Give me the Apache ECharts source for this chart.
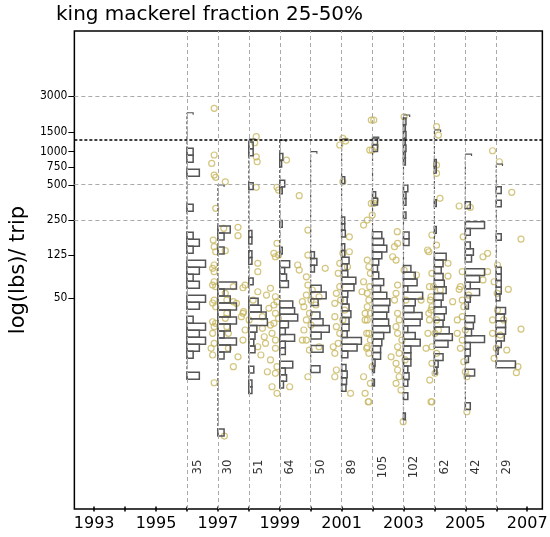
<!DOCTYPE html>
<html><head><meta charset="utf-8">
<script src="https://cdn.jsdelivr.net/npm/echarts@6/dist/echarts.min.js"></script>
<style>html,body{margin:0;padding:0;background:#fff}#c{width:550px;height:537px}</style>
</head><body><div id="c"></div>
<script>
// ---------- data ----------
const years = [1996,1997,1998,1999,2000,2001,2002,2003,2004,2005,2006];
const tripCounts = [35,30,51,64,50,89,105,102,62,42,29];
// histogram (per year): log value at top of first bin, bin width, relative bar lengths (top -> bottom)
const histTop  = [3.036,2.377,3.089,2.992,2.159,2.795,3.123,3.292,2.941,2.583,2.710];
const histStep = [0.0593,0.0593,0.0576,0.0568,0.0568,0.0568,0.0568,0.0568,0.0568,0.0568,0.0568];
const histMax  = [3.337,2.725,3.114,3.106,3.007,3.114,3.131,3.318,3.191,2.987,2.903];
const histBars = [
 [1,1,0,2,0,0,0,0,1,0,0,0,1,2,1,0,3,2,1,2,0,3,2,0,1,3,2,3,2,1,0,0,2],
 [2,1,0,1,0,0,0,0,3,1,2,3,2,3,2,1,3,2,1,0,0,0,0,0,0,0,0,0,0,1],
 [0.7,0.7,0,0,0,0,0.7,0,0,0,0,0,0,0.5,0.5,0,0.5,0.5,0,0,0.7,0,0,1.5,2,2.8,3,1.3,1,0.8,1,0,0,0.8,0,0.5,0.5],
 [0.5,0.3,0,0,0.8,0.4,0,0,0,0,0.4,0,0,0,0.4,0,1.6,0.8,1.1,1.4,0,0,2.1,2.4,2.9,1.4,0.9,2.4,0.9,0.9,0,2.1,0.9,1.1,0.6],
 [0.6,1,0.6,0,0,1.7,2.5,1.2,0,1.5,2,3,1.7,0,2,0,0,1.5],
 [0.5,0,0,0,0,0,0.5,0.5,0.6,0,0.5,0.5,1.2,0.9,1,2.3,2,1,0.9,1.2,1.5,1.2,1.2,0.9,3.2,2.5,1,0,0.7,0.9,0.8,0.7],
 [0.8,0.8,0,0,0,0,0,0,0.5,0.8,0,0,0,0,1.5,1.8,2.3,1.5,1,0.8,1,1.8,1.3,2.3,2.8,2.6,2.3,2.6,2.8,1.8,1.5,1.3,1.3,0.4,0.3,0,0.3],
 [0.4,0.3,0.4,0.3,0.4,0.3,0.3,0,0,0,0.7,0.4,0.4,0,0.4,0,0,0.9,0.9,0,0,0,1.2,1.9,2.2,0.7,3.1,1.9,1.7,3,2.7,0.7,1.9,2.7,1.2,1.2,1.2,0.7,0.9,0.7,0,0.7,0,0,0.3],
 [0.3,0.3,0,0,0,0,0.3,0,0,0,0.3,0,0,0,1.9,1.4,1.1,1.4,1.6,1.9,1.4,1.1,1.9,1.6,1.4,2.4,2.9,2.2,0,1.4,0.6,0.4],
 [0.8,0,0,3.1,0.8,0,0.8,1.3,1,0,3.1,2.3,0.8,2.3,0.8,0.5,0,1.5,1.3,1,3.1,0.8,0.8,0.5,0,1.5,0,0,0,0,0.8],
 [0.8,0,0.8,0,0,0,0,0.8,0,0,0,0,0.8,0.8,0.8,0.8,0.6,0,1.5,1.3,1.5,1.5,1.3,0.8,0.3,0,3.1]
];
// trips: [year position (jittered), log(lbs)]
const pts9697 = [[1996.88,3.375],[1996.88,2.979],[1996.80,2.908],[1996.88,2.809],[1996.93,2.790],[1997.24,2.752],[1996.93,2.527],[1997.19,2.358],[1997.65,2.366],[1997.65,2.295],[1996.85,2.258],[1996.88,2.202],[1996.93,2.159],[1997.24,2.168],[1996.88,2.047],[1996.83,2.019],[1996.88,1.990],[1996.88,1.905],[1996.83,1.877],[1996.93,1.863],[1997.50,1.863],[1997.81,1.854],[1997.24,1.807],[1996.88,1.750],[1996.83,1.725],[1996.93,1.693],[1997.29,1.750],[1997.50,1.736],[1997.60,1.722],[1997.81,1.637],[1997.76,1.609],[1997.29,1.637],[1996.83,1.566],[1996.93,1.553],[1996.88,1.524],[1997.24,1.595],[1997.29,1.524],[1997.34,1.468],[1996.83,1.468],[1996.88,1.383],[1997.81,1.411],[1996.78,1.341],[1996.83,1.284],[1997.34,1.341],[1997.65,1.269],[1997.50,1.185],[1996.88,1.049],[1997.21,0.597]];
const pts9899 = [[1998.24,3.134],[1998.19,3.083],[1998.24,2.964],[1998.27,2.922],[1998.24,2.705],[1998.91,2.705],[1998.96,2.682],[1999.63,2.634],[1999.22,2.936],[1998.91,2.230],[1998.81,2.146],[1998.86,2.117],[1998.96,2.131],[1998.29,2.061],[1998.29,1.990],[1999.58,2.047],[1999.63,2.004],[1997.88,1.877],[1998.29,1.820],[1998.70,1.849],[1998.86,1.778],[1998.91,1.736],[1998.81,1.708],[1998.65,1.680],[1999.73,1.736],[1999.78,1.693],[1997.83,1.651],[1998.44,1.609],[1998.86,1.637],[1998.96,1.595],[1998.81,1.553],[1997.88,1.496],[1998.44,1.510],[1998.50,1.439],[1998.75,1.468],[1998.86,1.411],[1999.78,1.496],[1999.73,1.411],[1998.29,1.354],[1998.86,1.341],[1998.39,1.284],[1998.70,1.242],[1998.60,1.142],[1998.86,1.129],[1998.91,1.185],[1998.75,1.015],[1998.91,0.959],[1999.32,1.015],[1998.57,1.792],[1998.70,1.538],[1998.54,1.383],[1998.14,1.750],[1998.01,1.581]];
const pts0001 = [[2001.04,3.120],[2000.94,3.064],[2001.13,3.097],[2001.96,3.275],[2001.91,3.021],[2001.04,2.752],[2001.96,2.569],[1999.91,2.343],[2001.71,2.385],[2001.25,2.286],[1999.91,2.131],[2000.47,2.019],[2001.04,2.146],[2001.25,2.159],[1999.86,1.947],[1999.91,1.877],[2000.94,2.061],[2000.89,1.976],[2001.19,2.032],[1999.86,1.792],[2000.01,1.750],[2000.27,1.778],[2000.94,1.863],[2000.83,1.807],[2000.78,1.722],[2001.71,1.905],[2001.66,1.820],[2001.91,1.863],[1999.96,1.637],[1999.86,1.581],[2000.01,1.538],[2000.78,1.609],[2000.83,1.524],[2000.94,1.468],[2001.76,1.637],[2001.76,1.581],[2000.27,1.354],[1999.86,1.411],[1999.96,1.326],[2000.73,1.354],[2000.89,1.383],[2000.78,1.298],[2001.81,1.468],[2001.81,1.341],[1999.91,1.100],[2000.83,1.157],[2000.78,1.100],[2001.29,0.959],[2001.71,1.100],[2001.76,0.959],[2001.86,0.888],[2000.05,1.835],[2000.17,1.708],[2000.97,1.750],[2001.04,1.581],[2001.10,1.665]];
const pts0203 = [[2002.04,3.275],[2001.99,3.021],[2002.09,3.049],[2003.02,3.303],[2002.09,2.597],[2002.04,2.569],[2001.83,2.428],[2001.99,2.470],[2002.81,2.230],[2002.71,2.202],[2002.65,2.117],[2002.76,2.089],[2001.83,2.089],[2001.88,2.032],[2001.93,1.976],[2002.81,1.877],[2002.76,1.807],[2002.71,1.750],[2003.84,1.863],[2003.89,1.778],[2001.83,1.807],[2001.88,1.750],[2001.83,1.693],[2001.93,1.637],[2002.81,1.637],[2002.86,1.581],[2002.76,1.524],[2002.81,1.468],[2003.89,1.665],[2003.84,1.581],[2003.79,1.468],[2001.83,1.581],[2001.88,1.468],[2001.93,1.411],[2001.83,1.354],[2002.60,1.269],[2002.81,1.354],[2002.86,1.298],[2002.76,1.214],[2001.88,1.298],[2001.99,1.185],[2001.93,1.044],[2001.88,0.888],[2002.81,1.157],[2002.86,1.100],[2002.76,1.044],[2002.99,0.719],[2003.89,0.888],[2002.80,2.329],[2003.02,2.004],[2003.08,1.750],[2002.95,1.411],[2003.05,1.242],[2002.92,0.987]];
const pts0406 = [[2004.07,3.219],[2004.13,3.148],[2004.07,2.894],[2004.07,2.824],[2004.18,2.612],[2004.80,2.547],[2005.16,2.535],[2005.88,3.015],[2006.10,2.922],[2006.50,2.663],[2003.92,2.301],[2004.93,2.286],[2006.80,2.267],[2004.07,2.216],[2003.82,2.159],[2004.44,2.061],[2004.44,1.953],[2005.57,2.117],[2005.72,2.146],[2004.90,1.990],[2005.72,1.990],[2005.57,1.920],[2004.84,1.863],[2004.80,1.841],[2005.93,1.905],[2006.39,1.841],[2006.03,1.807],[2003.92,1.976],[2003.97,1.863],[2003.87,1.750],[2003.92,1.693],[2003.82,1.637],[2004.07,1.581],[2004.59,1.736],[2004.90,1.750],[2004.95,1.693],[2004.90,1.609],[2004.74,1.581],[2005.88,1.581],[2006.24,1.581],[2006.80,1.504],[2004.74,1.468],[2004.90,1.411],[2004.84,1.341],[2005.88,1.468],[2006.34,1.326],[2006.00,1.341],[2005.93,1.256],[2004.02,1.468],[2003.92,1.354],[2004.07,1.298],[2003.92,1.214],[2004.02,1.129],[2004.95,1.227],[2005.00,1.142],[2005.05,1.100],[2006.70,1.185],[2006.65,1.134],[2003.92,0.888],[2005.05,0.803],[2003.42,1.962],[2003.78,2.174],[2003.73,1.341],[2003.57,1.750],[2004.19,1.835],[2004.13,1.496],[2003.85,1.072],[2005.11,1.792],[2005.00,1.496],[2006.04,2.047],[2006.04,1.665],[2006.13,1.453]];
// axes
const yTickLabels = ['50','125','250','500','750','1000','1500','3000'];
const yTickPos    = [1.767,2.131,2.428,2.725,2.877,3.007,3.176,3.479];
const gridLineLabels = ['3000','500','250'];
const thresholdPos = 3.106;
const xTickYears  = [1993,1994,1995,1996,1997,1998,1999,2000,2001,2002,2003,2004,2005,2006,2007];
const xLabelYears = [1993,1995,1997,1999,2001,2003,2005,2007];

// ---------- build ----------
const barUnit = 0.2, tickLen = 0.2, labelDx = 0.33, labelY = 0.335;
const barData = [], baseData = [];
years.forEach((yr, i) => {
  const b = histBars[i];
  b.forEach((v, k) => {
    if (v > 0) barData.push([yr, histTop[i] - k * histStep[i], histTop[i] - (k + 1) * histStep[i], v]);
  });
  baseData.push([yr, histMax[i], histTop[i] - b.length * histStep[i]]);
});
const allPts = [].concat(pts9697, pts9899, pts0001, pts0203, pts0406);
const gridGray = { color: '#aaa', width: 1, type: [4, 3] };
const markData = [];
years.forEach(y => markData.push({ xAxis: y, lineStyle: gridGray }));
gridLineLabels.forEach(l => markData.push({ yAxis: yTickPos[yTickLabels.indexOf(l)], lineStyle: gridGray }));
markData.push({ yAxis: thresholdPos, lineStyle: { color: '#000', width: 1.5, type: [3, 2] } });

const chart = echarts.init(document.getElementById('c'), null, { renderer: 'canvas' });
chart.setOption({
  animation: false,
  backgroundColor: '#fff',
  title: { text: 'king mackerel fraction 25-50%', left: 56, top: 5, padding: 0,
    textStyle: { fontSize: 20, fontWeight: 'normal', fontFamily: 'DejaVu Sans', color: '#000' } },
  grid: { left: 57, right: 3, top: 31, bottom: 28, show: true, borderColor: '#000', borderWidth: 1.5 },
  xAxis: { type: 'value', min: 1992.36, max: 2007.49,
    axisLine: { show: false }, splitLine: { show: false },
    axisTick: { show: true, length: 5, customValues: xTickYears, lineStyle: { color: '#000', width: 1.5 } },
    axisLabel: { customValues: xLabelYears, fontSize: 16, fontFamily: 'DejaVu Sans', color: '#000', margin: 7,
      formatter: v => String(Math.round(v)) } },
  yAxis: { type: 'value', min: -0.021, max: 4.03,
    axisLine: { show: false }, splitLine: { show: false },
    axisTick: { show: true, length: 6, customValues: yTickPos, lineStyle: { color: '#000', width: 1 } },
    axisLabel: { customValues: yTickPos, fontSize: 12, fontFamily: "'DejaVu Sans Condensed','DejaVu Sans'", color: '#000', margin: 7,
      formatter: v => { for (let i = 0; i < yTickPos.length; i++) if (Math.abs(yTickPos[i] - v) < 1e-6) return yTickLabels[i]; return ''; } },
    name: 'log(lbs)/ trip', nameLocation: 'middle', nameGap: 27,
    nameTextStyle: { fontSize: 21, fontFamily: 'DejaVu Sans', color: '#000' } },
  series: [
    { type: 'scatter', data: allPts, symbol: 'circle', symbolSize: 6, silent: true, z: 2,
      itemStyle: { color: 'rgba(0,0,0,0)', borderColor: '#C8B65E', borderWidth: 1.2 },
      markLine: { silent: true, symbol: ['none', 'none'], label: { show: false }, data: markData } },
    { type: 'custom', data: baseData, silent: true, z: 3,
      encode: { x: 0, y: [1, 2] },
      renderItem: (p, api) => {
        const x = api.value(0), mx = api.value(1), mn = api.value(2);
        const a = api.coord([x, mn]), b = api.coord([x, mx]), c = api.coord([x + tickLen, mx]);
        return { type: 'group', children: [
          { type: 'line', shape: { x1: a[0], y1: a[1], x2: b[0], y2: b[1] }, style: { stroke: '#555', lineWidth: 1.2, lineDash: [3, 2] } },
          { type: 'polyline', shape: { points: [b, c, [c[0], c[1] + 2]] }, style: { stroke: '#555', lineWidth: 1.2, fill: null } }
        ] };
      } },
    { type: 'custom', data: barData, silent: true, z: 4,
      encode: { x: 0, y: [1, 2] },
      renderItem: (p, api) => {
        const x = api.value(0), t = api.value(1), bt = api.value(2), v = api.value(3);
        const p1 = api.coord([x, t]), p2 = api.coord([x + v * barUnit, bt]);
        return { type: 'rect', shape: { x: p1[0], y: p1[1], width: p2[0] - p1[0], height: p2[1] - p1[1] },
          style: { fill: null, stroke: '#555', lineWidth: 1.5 } };
      } },
    { type: 'scatter', data: years.map((y, i) => [y + labelDx, labelY, tripCounts[i]]), symbolSize: 0, silent: true, z: 5,
      itemStyle: { color: 'rgba(0,0,0,0)' },
      label: { show: true, position: 'inside', rotate: 90, formatter: p => String(p.data[2]),
        fontSize: 13, fontFamily: "'DejaVu Sans Condensed','DejaVu Sans'", color: '#000' } }
  ]
});
</script></body></html>
